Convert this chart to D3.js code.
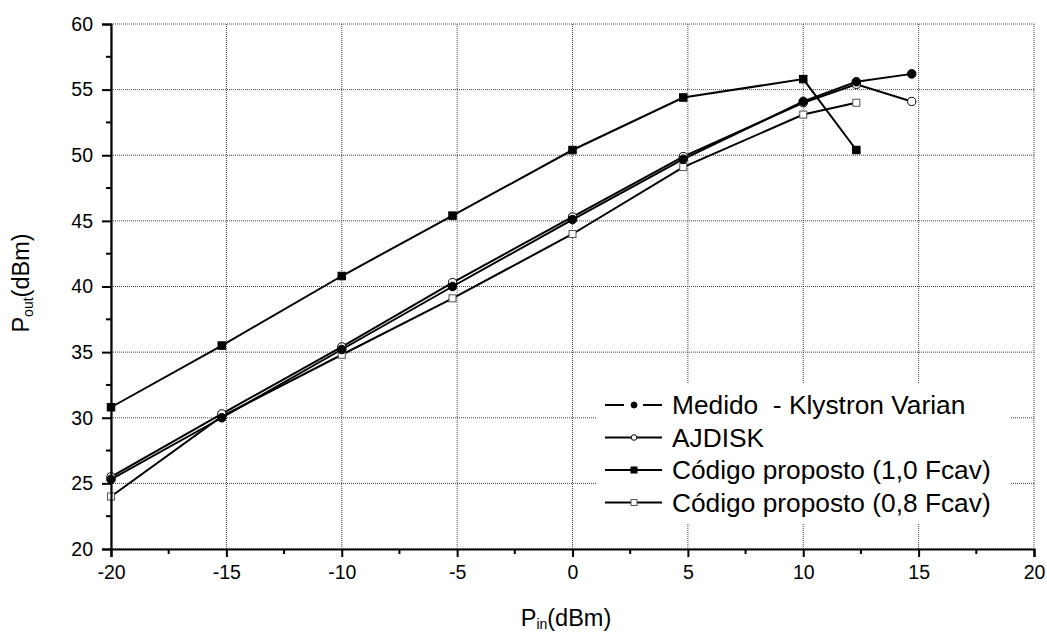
<!DOCTYPE html>
<html>
<head>
<meta charset="utf-8">
<script src="https://cdn.jsdelivr.net/npm/d3@7"></script>
<style>
  html, body { margin: 0; padding: 0; background: #fff; }
  svg { display: block; font-family: "Liberation Sans", Arial, sans-serif; }
</style>
</head>
<body>
<svg id="chart" width="1047" height="634"></svg>
<script>
// ---- data ----
const xMedido = [-20, -15.2, -10, -5.2, 0, 4.8, 10, 12.3, 14.7];
const yMedido = [25.3, 30.0, 35.2, 40.0, 45.1, 49.7, 54.1, 55.6, 56.2];
const xAjdisk = [-20, -15.2, -10, -5.2, 0, 4.8, 10, 12.3, 14.7];
const yAjdisk = [25.5, 30.3, 35.4, 40.3, 45.3, 49.9, 54.0, 55.4, 54.1];
const xCod10 = [-20, -15.2, -10, -5.2, 0, 4.8, 10, 12.3];
const yCod10 = [30.8, 35.5, 40.8, 45.4, 50.4, 54.4, 55.8, 50.4];
const xCod08 = [-20, -15.2, -10, -5.2, 0, 4.8, 10, 12.3];
const yCod08 = [24.0, 30.1, 34.8, 39.1, 44.0, 49.1, 53.1, 54.0];
const seriesNames = ["Medido  - Klystron Varian", "AJDISK", "Código proposto (1,0 Fcav)", "Código proposto (0,8 Fcav)"];
const xTicks = [-20, -15, -10, -5, 0, 5, 10, 15, 20];
const yTicks = [20, 25, 30, 35, 40, 45, 50, 55, 60];

const svg = d3.select("#chart");
const L = 111, R = 1034, T = 24, B = 549;
const x = d3.scaleLinear().domain([-20, 20]).range([L, R]);
const y = d3.scaleLinear().domain([20, 60]).range([B, T]);

// grid
const grid = svg.append("g");
grid.selectAll(".gx").data(xTicks).enter().append("line")
  .attr("x1", d => x(d)).attr("x2", d => x(d)).attr("y1", T).attr("y2", B)
  .attr("stroke", "#444").attr("stroke-width", 1).attr("stroke-dasharray", "1,1");
grid.selectAll(".gy").data(yTicks).enter().append("line")
  .attr("x1", L).attr("x2", R).attr("y1", d => y(d)).attr("y2", d => y(d))
  .attr("stroke", "#444").attr("stroke-width", 1).attr("stroke-dasharray", "1,1");

// legend background (hides grid)
svg.append("rect").attr("x", 596).attr("y", 383).attr("width", 414).attr("height", 141).attr("fill", "#fff");

// series
const series = [
  { xs: xCod08, ys: yCod08, type: "sq", fill: "#fff" },
  { xs: xCod10, ys: yCod10, type: "sq", fill: "#000" },
  { xs: xAjdisk, ys: yAjdisk, type: "ci", fill: "#fff" },
  { xs: xMedido, ys: yMedido, type: "ci", fill: "#000" }
];
const line = d3.line().x(d => x(d[0])).y(d => y(d[1]));
function marker(g, type, fill, cx, cy) {
  if (type === "ci") {
    g.append("circle").attr("cx", cx).attr("cy", cy).attr("r", fill === "#000" ? 4.3 : 4.1)
      .attr("fill", fill).attr("stroke", "#000").attr("stroke-width", 1);
  } else {
    const s = fill === "#000" ? 7.5 : 7;
    g.append("rect").attr("x", cx - s / 2).attr("y", cy - s / 2).attr("width", s).attr("height", s)
      .attr("fill", fill).attr("stroke", fill === "#000" ? "#000" : "#555").attr("stroke-width", 1);
  }
}
series.forEach(s => {
  const pts = s.xs.map((v, i) => [v, s.ys[i]]);
  svg.append("path").attr("d", line(pts)).attr("fill", "none")
    .attr("stroke", "#000").attr("stroke-width", 2);
});
series.forEach(s => {
  const g = svg.append("g");
  s.xs.forEach((v, i) => marker(g, s.type, s.fill, x(v), y(s.ys[i])));
});

// axes
const fmt = d => String(d);
const xAxis = d3.axisBottom(x).tickValues(xTicks).tickSize(8).tickPadding(8).tickFormat(fmt);
const gx = svg.append("g").attr("transform", `translate(0,${B})`).call(xAxis);
const yAxis = d3.axisLeft(y).tickValues(yTicks).tickSize(9).tickPadding(9).tickFormat(fmt);
const gy = svg.append("g").attr("transform", `translate(${L},0)`).call(yAxis);
[gx, gy].forEach(g => {
  g.select(".domain").attr("stroke", "#000").attr("stroke-width", 2.2);
  g.selectAll(".tick line").attr("stroke", "#000").attr("stroke-width", 2);
  g.selectAll(".tick text").attr("font-size", 19.5).attr("fill", "#000")
    .attr("font-family", "Liberation Sans, Arial, sans-serif");
});
// minor ticks
const xMinor = d3.range(-17.5, 20, 5);
const yMinor = d3.range(22.5, 60, 5);
svg.append("g").selectAll("line").data(xMinor).enter().append("line")
  .attr("x1", d => x(d)).attr("x2", d => x(d)).attr("y1", B).attr("y2", B + 5)
  .attr("stroke", "#000").attr("stroke-width", 2);
svg.append("g").selectAll("line").data(yMinor).enter().append("line")
  .attr("x1", L - 5).attr("x2", L).attr("y1", d => y(d)).attr("y2", d => y(d))
  .attr("stroke", "#000").attr("stroke-width", 2);

// axis titles
const xt = svg.append("text").attr("x", 566).attr("y", 626).attr("text-anchor", "middle")
  .attr("font-size", 23.5).attr("fill", "#000");
xt.append("tspan").text("P");
xt.append("tspan").attr("font-size", 14).attr("dy", 3).text("in");
xt.append("tspan").attr("dy", -3).text("(dBm)");

const yt = svg.append("text").attr("transform", "translate(29,283) rotate(-90)")
  .attr("text-anchor", "middle").attr("font-size", 23.5).attr("fill", "#000");
yt.append("tspan").text("P");
yt.append("tspan").attr("font-size", 14).attr("dy", 4).text("out");
yt.append("tspan").attr("dy", -4).text("(dBm)");

// legend
const legStyles = [
  { type: "ci", fill: "#000", gap: true },
  { type: "ci", fill: "#fff", gap: false },
  { type: "sq", fill: "#000", gap: false },
  { type: "sq", fill: "#fff", gap: false }
];
const lg = svg.append("g");
seriesNames.forEach((name, i) => {
  const cy = 405 + i * 32.5;
  const st = legStyles[i];
  if (st.gap) {
    lg.append("line").attr("x1", 605).attr("x2", 624).attr("y1", cy).attr("y2", cy).attr("stroke", "#000").attr("stroke-width", 2);
    lg.append("line").attr("x1", 643).attr("x2", 662).attr("y1", cy).attr("y2", cy).attr("stroke", "#000").attr("stroke-width", 2);
  } else {
    lg.append("line").attr("x1", 605).attr("x2", 662).attr("y1", cy).attr("y2", cy).attr("stroke", "#000").attr("stroke-width", 2);
  }
  if (st.type === "ci") {
    lg.append("circle").attr("cx", 634).attr("cy", cy).attr("r", st.fill === "#000" ? 3 : 2.8)
      .attr("fill", st.fill).attr("stroke", "#000").attr("stroke-width", 1);
  } else {
    lg.append("rect").attr("x", 631).attr("y", cy - 3).attr("width", 6).attr("height", 6)
      .attr("fill", st.fill).attr("stroke", st.fill === "#000" ? "#000" : "#555").attr("stroke-width", 1);
  }
  lg.append("text").attr("x", 672).attr("y", cy + 9).attr("font-size", 26.3).attr("fill", "#000")
    .attr("xml:space", "preserve").style("white-space", "pre").text(name);
});
</script>
</body>
</html>
